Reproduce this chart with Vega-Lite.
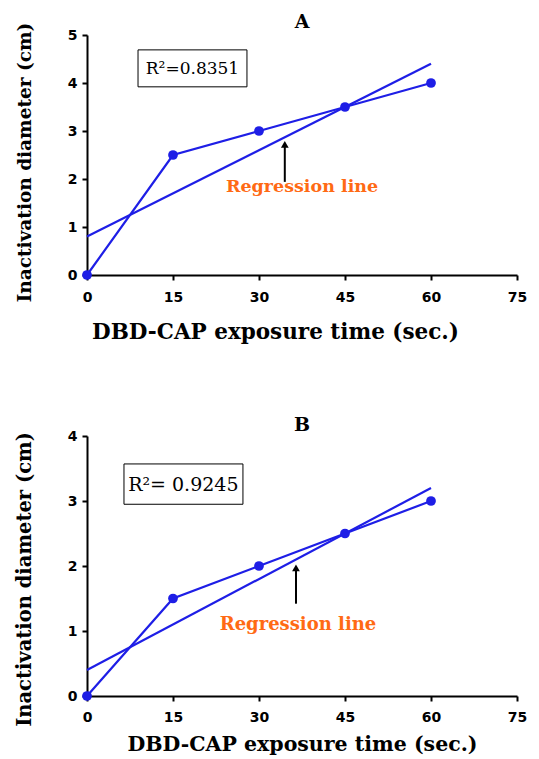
{
  "$schema": "https://vega.github.io/schema/vega-lite/v6.json",
  "padding": {"left": 14, "top": 13, "right": 5, "bottom": 0},
  "background": "white",
  "spacing": 73,
  "datasets": {
    "a_obs": [{"t": 0, "d": 0}, {"t": 15, "d": 2.5}, {"t": 30, "d": 3}, {"t": 45, "d": 3.5}, {"t": 60, "d": 4}],
    "a_fit": [{"t": 0, "d": 0.8}, {"t": 60, "d": 4.4}],
    "b_obs": [{"t": 0, "d": 0}, {"t": 15, "d": 1.5}, {"t": 30, "d": 2}, {"t": 45, "d": 2.5}, {"t": 60, "d": 3}],
    "b_fit": [{"t": 0, "d": 0.4}, {"t": 60, "d": 3.2}]
  },
  "config": {
    "view": {"stroke": null},
    "axis": {
      "grid": false,
      "domainColor": "black", "domainWidth": 2,
      "tickColor": "black", "tickWidth": 2, "tickSize": 5,
      "labelFont": "DejaVu Sans", "labelFontWeight": "bold", "labelFontSize": 14, "labelColor": "black",
      "titleFont": "DejaVu Serif", "titleFontWeight": "bold", "titleColor": "black", "format": "d"
    },
    "title": {"font": "DejaVu Serif", "fontWeight": "bold", "fontSize": 19, "color": "black", "frame": "group"}
  },
  "vconcat": [
    {
      "title": {"text": "A", "offset": -10},
      "width": 430, "height": 240,
      "layer": [
        {
          "data": {"name": "a_obs"},
          "mark": {"type": "line", "color": "#1e1ee6", "strokeWidth": 2.2, "clip": false, "point": {"filled": true, "size": 95, "color": "#1e1ee6"}},
          "encoding": {
            "x": {"field": "t", "type": "quantitative", "scale": {"domain": [0, 75], "nice": false},
                  "axis": {"values": [0, 15, 30, 45, 60, 75], "title": "DBD-CAP exposure time (sec.)", "titleFontSize": 21.5, "titleX": 188, "labelPadding": 10, "titlePadding": 17, "labelFlush": false}},
            "y": {"field": "d", "type": "quantitative", "scale": {"domain": [0, 5], "nice": false},
                  "axis": {"values": [0, 1, 2, 3, 4, 5], "title": "Inactivation diameter (cm)", "titleFontSize": 18.5, "titleY": 127, "labelPadding": 5, "titlePadding": 33, "labelFlush": false}}
          }
        },
        {
          "data": {"name": "a_fit"},
          "mark": {"type": "line", "color": "#1e1ee6", "strokeWidth": 2.2},
          "encoding": {"x": {"field": "t", "type": "quantitative"}, "y": {"field": "d", "type": "quantitative"}}
        },
        {
          "data": {"values": [{}]},
          "mark": {"type": "rect", "fill": "white", "stroke": "black", "strokeWidth": 1},
          "encoding": {"x": {"datum": 8.9}, "x2": {"datum": 27.9}, "y": {"datum": 4.69}, "y2": {"datum": 3.92}}
        },
        {
          "data": {"values": [{}]},
          "mark": {"type": "text", "text": "R²=0.8351", "font": "DejaVu Serif", "fontSize": 17, "color": "black", "align": "center", "baseline": "middle"},
          "encoding": {"x": {"datum": 18.4}, "y": {"datum": 4.3}}
        },
        {
          "data": {"values": [{}]},
          "mark": {"type": "rule", "color": "black", "strokeWidth": 2},
          "encoding": {"x": {"datum": 34.5}, "y": {"datum": 1.94}, "y2": {"datum": 2.7}}
        },
        {
          "data": {"values": [{}]},
          "mark": {"type": "point", "shape": "triangle-up", "filled": true, "color": "black", "size": 60, "opacity": 1},
          "encoding": {"x": {"datum": 34.5}, "y": {"datum": 2.72}}
        },
        {
          "data": {"values": [{}]},
          "mark": {"type": "text", "text": "Regression line", "font": "DejaVu Serif", "fontWeight": "bold", "fontSize": 17.5, "color": "#ff6a14", "align": "center", "baseline": "middle"},
          "encoding": {"x": {"datum": 37.5}, "y": {"datum": 1.83}}
        }
      ]
    },
    {
      "title": {"text": "B", "offset": -6},
      "width": 430, "height": 260,
      "layer": [
        {
          "data": {"name": "b_obs"},
          "mark": {"type": "line", "color": "#1e1ee6", "strokeWidth": 2.2, "clip": false, "point": {"filled": true, "size": 95, "color": "#1e1ee6"}},
          "encoding": {
            "x": {"field": "t", "type": "quantitative", "scale": {"domain": [0, 75], "nice": false},
                  "axis": {"values": [0, 15, 30, 45, 60, 75], "title": "DBD-CAP exposure time (sec.)", "titleFontSize": 20.5, "labelPadding": 9, "titlePadding": 10, "labelFlush": false}},
            "y": {"field": "d", "type": "quantitative", "scale": {"domain": [0, 4], "nice": false},
                  "axis": {"values": [0, 1, 2, 3, 4], "title": "Inactivation diameter (cm)", "titleFontSize": 19.5, "titleY": 143, "labelPadding": 5, "titlePadding": 33, "labelFlush": false}}
          }
        },
        {
          "data": {"name": "b_fit"},
          "mark": {"type": "line", "color": "#1e1ee6", "strokeWidth": 2.2},
          "encoding": {"x": {"field": "t", "type": "quantitative"}, "y": {"field": "d", "type": "quantitative"}}
        },
        {
          "data": {"values": [{}]},
          "mark": {"type": "rect", "fill": "white", "stroke": "black", "strokeWidth": 1},
          "encoding": {"x": {"datum": 6.45}, "x2": {"datum": 27.2}, "y": {"datum": 3.57}, "y2": {"datum": 2.95}}
        },
        {
          "data": {"values": [{}]},
          "mark": {"type": "text", "text": "R²= 0.9245", "font": "DejaVu Serif", "fontSize": 19, "color": "black", "align": "center", "baseline": "middle"},
          "encoding": {"x": {"datum": 16.8}, "y": {"datum": 3.25}}
        },
        {
          "data": {"values": [{}]},
          "mark": {"type": "rule", "color": "black", "strokeWidth": 2},
          "encoding": {"x": {"datum": 36.45}, "y": {"datum": 1.42}, "y2": {"datum": 1.95}}
        },
        {
          "data": {"values": [{}]},
          "mark": {"type": "point", "shape": "triangle-up", "filled": true, "color": "black", "size": 60, "opacity": 1},
          "encoding": {"x": {"datum": 36.45}, "y": {"datum": 1.97}}
        },
        {
          "data": {"values": [{}]},
          "mark": {"type": "text", "text": "Regression line", "font": "DejaVu Serif", "fontWeight": "bold", "fontSize": 18, "color": "#ff6a14", "align": "center", "baseline": "middle"},
          "encoding": {"x": {"datum": 36.8}, "y": {"datum": 1.1}}
        }
      ]
    }
  ]
}
